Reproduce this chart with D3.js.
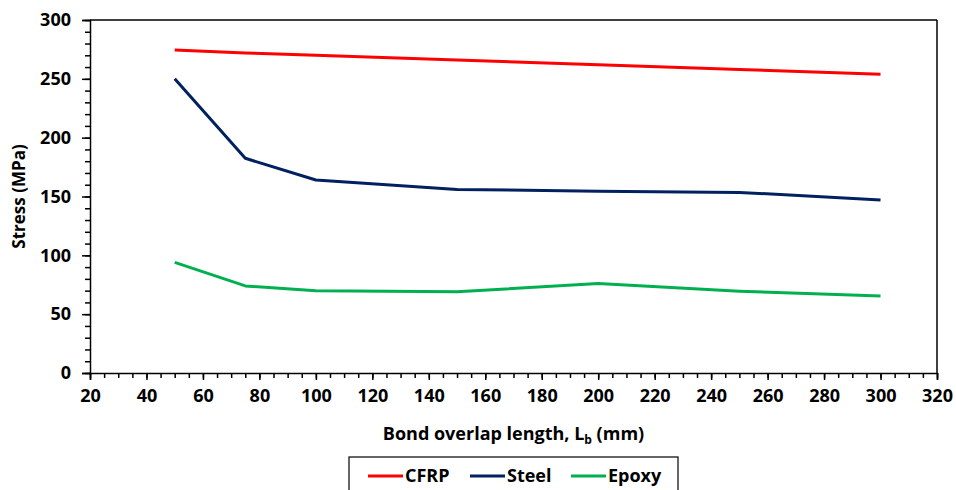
<!DOCTYPE html>
<html>
<head>
<meta charset="utf-8">
<script src="https://cdn.jsdelivr.net/npm/d3@7/dist/d3.min.js"></script>
<style>
  html, body { margin: 0; padding: 0; background: #fff; }
  svg { display: block; }
  text { font-family: "Open Sans", sans-serif; font-weight: bold; fill: #000; }
</style>
</head>
<body>
<svg id="chart" width="956" height="490"></svg>
<script>
const lengths = [50, 75, 100, 150, 200, 250, 300];
const cfrp  = [274.5, 272, 270, 266, 262, 258, 254];
const steel = [250, 182.5, 164, 156, 154.5, 153.5, 147];
const epoxy = [94, 74, 70, 69, 76, 69.5, 65.5];
const seriesNames = ["CFRP", "Steel", "Epoxy"];
const seriesColors = ["#FF0000", "#002060", "#00B050"];
const xTicks = [20, 40, 60, 80, 100, 120, 140, 160, 180, 200, 220, 240, 260, 280, 300, 320];
const yTicks = [0, 50, 100, 150, 200, 250, 300];
const xLabel = "Bond overlap length, L";
const yLabel = "Stress (MPa)";

const FONT = "'Open Sans', sans-serif";
const svg = d3.select("#chart");
const L = 90, R = 937, T = 20, B = 373;
const x = d3.scaleLinear().domain([20, 320]).range([L, R]);
const y = d3.scaleLinear().domain([0, 300]).range([B, T]);

// frame top and right
svg.append("line").attr("x1", L).attr("x2", R).attr("y1", T).attr("y2", T)
  .attr("stroke", "#000").attr("stroke-width", 1.5);
svg.append("line").attr("x1", R).attr("x2", R).attr("y1", T).attr("y2", B)
  .attr("stroke", "#000").attr("stroke-width", 1.5);

// y axis minor ticks
const yAxisMinor = d3.axisLeft(y).tickValues(d3.range(0, 301, 10)).tickSize(5).tickFormat("");
const gyMin = svg.append("g").attr("transform", `translate(${L},0)`).call(yAxisMinor);
gyMin.select(".domain").remove();
gyMin.selectAll("line").attr("stroke", "#000").attr("stroke-width", 1.5);

const yAxis = d3.axisLeft(y).tickValues(yTicks).tickSize(8).tickPadding(11);
const gy = svg.append("g").attr("transform", `translate(${L},0)`).call(yAxis);
gy.select(".domain").attr("stroke", "#000").attr("stroke-width", 1.5);
gy.selectAll("line").attr("stroke", "#000").attr("stroke-width", 1.5);
gy.selectAll("text").attr("font-size", 18).attr("font-family", FONT).attr("font-weight", "bold").attr("fill", "#000");

// x axis minor ticks
const xAxisMinor = d3.axisBottom(x).tickValues(d3.range(20, 321, 5)).tickSize(5).tickFormat("");
const gxMin = svg.append("g").attr("transform", `translate(0,${B})`).call(xAxisMinor);
gxMin.select(".domain").remove();
gxMin.selectAll("line").attr("stroke", "#000").attr("stroke-width", 1.5);

const xAxis = d3.axisBottom(x).tickValues(xTicks).tickSize(7).tickPadding(9);
const gx = svg.append("g").attr("transform", `translate(0,${B})`).call(xAxis);
gx.select(".domain").attr("stroke", "#000").attr("stroke-width", 1.5);
gx.selectAll("line").attr("stroke", "#000").attr("stroke-width", 1.5);
gx.selectAll("text").attr("font-size", 18).attr("font-family", FONT).attr("font-weight", "bold").attr("fill", "#000");

// lines
const data = [cfrp, steel, epoxy];
const line = d3.line().x((d, i) => x(lengths[i])).y(d => y(d));
data.forEach((vals, k) => {
  svg.append("path").datum(vals).attr("d", line)
    .attr("fill", "none").attr("stroke", seriesColors[k]).attr("stroke-width", 3)
    .attr("stroke-linejoin", "round");
});

// axis titles
const xt = svg.append("text").attr("x", (L + R) / 2).attr("y", 440)
  .attr("text-anchor", "middle").attr("font-size", 18);
xt.append("tspan").text(xLabel);
xt.append("tspan").text("b").attr("font-size", 12).attr("dy", 4);
xt.append("tspan").text(" (mm)").attr("dy", -4);

svg.append("text").attr("transform", `translate(25,${(T + B) / 2}) rotate(-90)`)
  .attr("text-anchor", "middle").attr("font-size", 17).text(yLabel);

// legend
svg.append("rect").attr("x", 349).attr("y", 457).attr("width", 329).attr("height", 40)
  .attr("fill", "#fff").attr("stroke", "#000").attr("stroke-width", 1.2);
const legX = [368, 470, 571];
seriesNames.forEach((n, k) => {
  svg.append("line").attr("x1", legX[k]).attr("x2", legX[k] + 35).attr("y1", 476).attr("y2", 476)
    .attr("stroke", seriesColors[k]).attr("stroke-width", 3);
  svg.append("text").attr("x", legX[k] + 37).attr("y", 482).attr("font-size", 18).text(n);
});
</script>
</body>
</html>
